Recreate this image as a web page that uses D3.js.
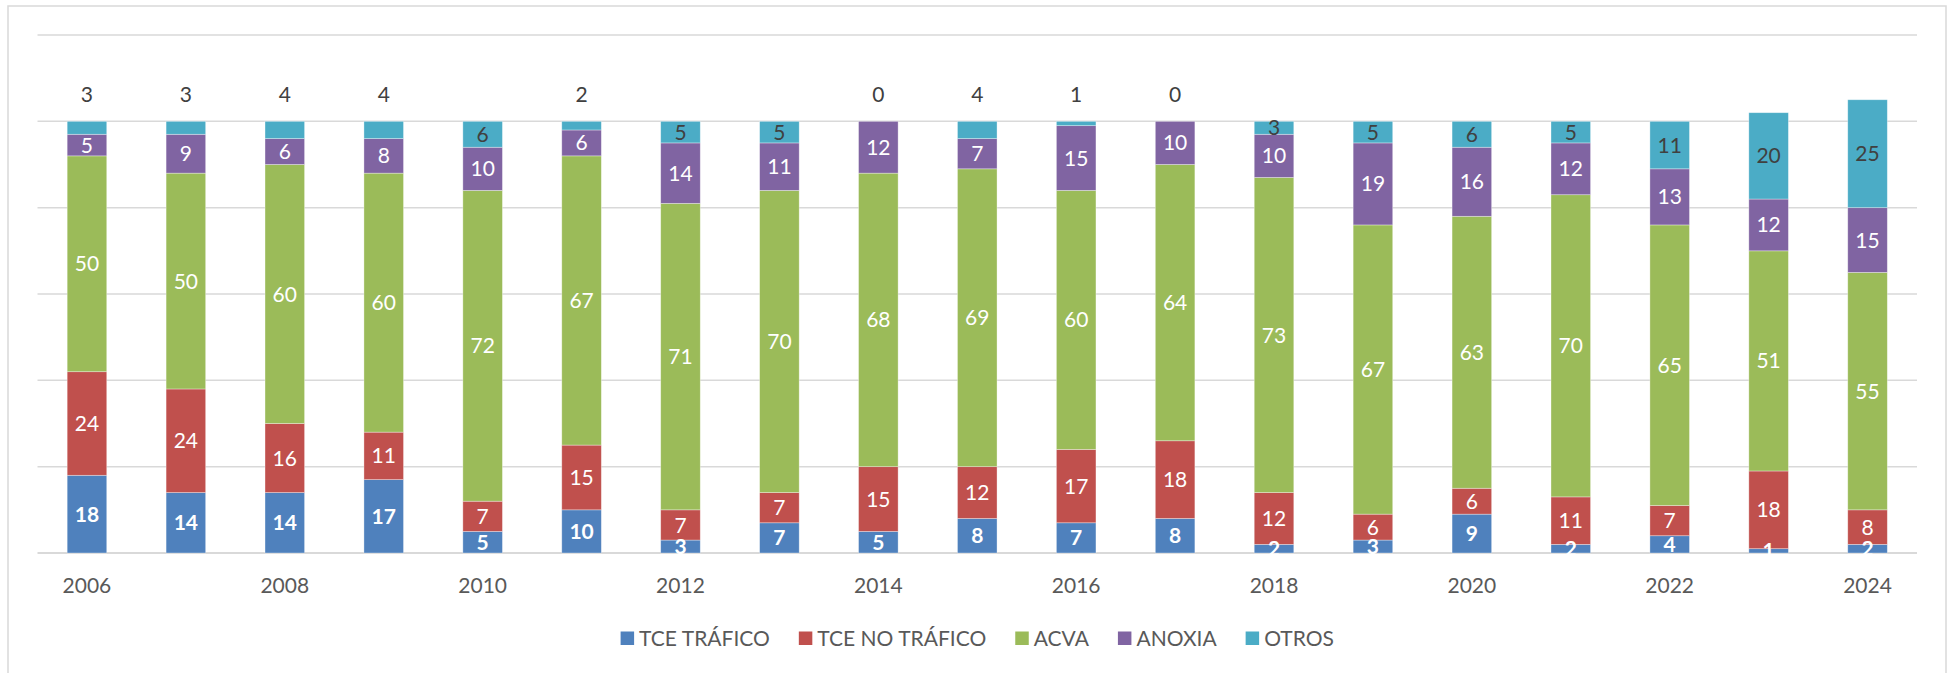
<!DOCTYPE html>
<html>
<head>
<meta charset="utf-8">
<script src="https://cdn.jsdelivr.net/npm/d3@7/dist/d3.min.js"></script>
<style>
  body { margin: 0; background: #fff; }
  svg { display: block; font-family: Lato, "Open Sans", sans-serif; }
</style>
</head>
<body>
<script>

// Data
var years = [2006, 2007, 2008, 2009, 2010, 2011, 2012, 2013, 2014, 2015, 2016, 2017, 2018, 2019, 2020, 2021, 2022, 2023, 2024]
var seriesNames = ['TCE TRÁFICO', 'TCE NO TRÁFICO', 'ACVA', 'ANOXIA', 'OTROS']

var tceTrafico   = [18, 14, 14, 17, 5, 10, 3, 7, 5, 8, 7, 8, 2, 3, 9, 2, 4, 1, 2]
var tceNoTrafico = [24, 24, 16, 11, 7, 15, 7, 7, 15, 12, 17, 18, 12, 6, 6, 11, 7, 18, 8]
var acva         = [50, 50, 60, 60, 72, 67, 71, 70, 68, 69, 60, 64, 73, 67, 63, 70, 65, 51, 55]
var anoxia       = [5, 9, 6, 8, 10, 6, 14, 11, 12, 7, 15, 10, 10, 19, 16, 12, 13, 12, 15]
var otros        = [3, 3, 4, 4, 6, 2, 5, 5, 0, 4, 1, 0, 3, 5, 6, 5, 11, 20, 25]

// years whose OTROS label was dragged above the bar
var otrosLabelAbove = [2006, 2007, 2008, 2009, 2011, 2014, 2015, 2016, 2017]

var xTickYears = [2006, 2008, 2010, 2012, 2014, 2016, 2018, 2020, 2022, 2024]
var yGridValues = [0, 20, 40, 60, 80, 100, 120]

var colors = ['#4F81BD', '#C0504D', '#9BBB59', '#8064A2', '#4BACC6']

// build rows for d3.stack
var rows = years.map(function(y, i) {
  var r = { year: y }
  r[seriesNames[0]] = tceTrafico[i]
  r[seriesNames[1]] = tceNoTrafico[i]
  r[seriesNames[2]] = acva[i]
  r[seriesNames[3]] = anoxia[i]
  r[seriesNames[4]] = otros[i]
  return r
})

// Dimensions
var W = 1948, H = 673
var plot = { left: 37.5, right: 1917, top: 35, bottom: 553 }

var svg = d3.select('body').append('svg')
  .attr('width', W)
  .attr('height', H)

// chart frame
svg.append('rect')
  .attr('x', 8).attr('y', 6)
  .attr('width', 1938).attr('height', 700)
  .attr('fill', 'none')
  .attr('stroke', '#d9d9d9')
  .attr('stroke-width', 1.5)

var xScale = d3.scaleBand()
  .domain(years)
  .range([plot.left, plot.right])
  .paddingInner(0.6)
  .paddingOuter(0.3)

var yScale = d3.scaleLinear()
  .domain([0, 120])
  .range([plot.bottom, plot.top])

var color = d3.scaleOrdinal().domain(seriesNames).range(colors)

// gridlines
svg.append('g').attr('class', 'grid')
  .selectAll('line')
  .data(yGridValues)
  .join('line')
  .attr('x1', plot.left).attr('x2', plot.right)
  .attr('y1', function(d) { return yScale(d) })
  .attr('y2', function(d) { return yScale(d) })
  .attr('stroke', '#d9d9d9')
  .attr('stroke-width', function(d) { return d === 0 ? 2 : 1.5 })

// stacked bars
var stacked = d3.stack().keys(seriesNames)(rows)

var layers = svg.append('g').selectAll('g.layer')
  .data(stacked)
  .join('g')
  .attr('class', 'layer')
  .attr('fill', function(d) { return color(d.key) })

layers.selectAll('rect')
  .data(function(d) { return d })
  .join('rect')
  .attr('x', function(d) { return xScale(d.data.year) })
  .attr('width', xScale.bandwidth())
  .attr('y', function(d) { return yScale(d[1]) })
  .attr('height', function(d) { return yScale(d[0]) - yScale(d[1]) })
  .attr('stroke', 'rgba(255,255,255,0.45)')
  .attr('stroke-width', 0.75)

// data labels
var labels = svg.append('g')
stacked.forEach(function(layer, si) {
  layer.forEach(function(d) {
    var key = layer.key
    var v = d[1] - d[0]
    var cx = xScale(d.data.year) + xScale.bandwidth() / 2
    var cy = (yScale(d[0]) + yScale(d[1])) / 2
    var fill = '#fff'
    if (key === 'OTROS') {
      fill = '#404040'
      if (otrosLabelAbove.indexOf(d.data.year) >= 0) cy = yScale(d[1]) - 27
    }
    labels.append('text')
      .attr('x', cx)
      .attr('y', cy)
      .attr('dy', '0.36em')
      .attr('text-anchor', 'middle')
      .attr('font-size', 21)
      .attr('font-weight', si === 0 ? 700 : 400)
      .attr('fill', fill)
      .text(v)
  })
})

// x axis labels (every other year)
svg.append('g').selectAll('text')
  .data(xTickYears)
  .join('text')
  .attr('x', function(d) { return xScale(d) + xScale.bandwidth() / 2 })
  .attr('y', 585)
  .attr('dy', '0.36em')
  .attr('text-anchor', 'middle')
  .attr('font-size', 21)
  .attr('fill', '#595959')
  .text(function(d) { return d })

// legend
var legend = svg.append('g')
var lx = 0
seriesNames.forEach(function(name, i) {
  var item = legend.append('g').attr('transform', 'translate(' + lx + ',0)')
  item.append('rect')
    .attr('x', 0).attr('y', -6.5)
    .attr('width', 13.5).attr('height', 13.5)
    .attr('fill', colors[i])
  var t = item.append('text')
    .attr('x', 18.5)
    .attr('dy', '0.36em')
    .attr('font-size', 21)
    .attr('fill', '#595959')
    .text(name)
  lx += 18.5 + t.node().getComputedTextLength() + 29
})
var legendW = lx - 29
legend.attr('transform', 'translate(' + ((plot.left + plot.right) / 2 - legendW / 2) + ',638)')

</script>
</body>
</html>
